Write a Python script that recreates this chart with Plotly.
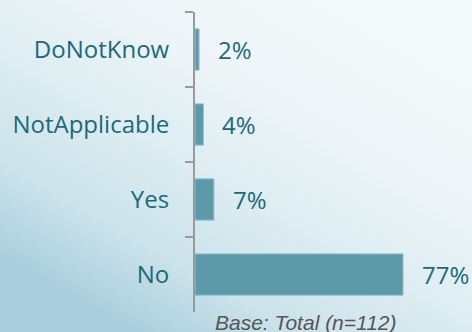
import base64
import plotly.graph_objects as go

categories = ["DoNotKnow", "NotApplicable", "Yes", "No"]
values = [1.5, 3.1, 7.0, 77.0]
labels = ["2%", "4%", "7%", "77%"]
base_note = "Base: Total (n=112)"

W, H = 472, 332
TEAL_TXT = "#1b6a7a"
BAR = "#5c9aaa"

svg = f'''<svg xmlns="http://www.w3.org/2000/svg" width="{W}" height="{H}" viewBox="0 0 {W} {H}" preserveAspectRatio="none">
<defs><linearGradient id="g" gradientUnits="userSpaceOnUse" x1="330" y1="0" x2="140" y2="{H}">
<stop offset="0" stop-color="#f3fafb"/>
<stop offset="0.28" stop-color="#eef5f8"/>
<stop offset="0.55" stop-color="#ddedf2"/>
<stop offset="0.8" stop-color="#cbe2ea"/>
<stop offset="1" stop-color="#aad0dd"/>
</linearGradient></defs>
<rect x="0" y="0" width="{W}" height="{H}" fill="url(#g)"/>
</svg>'''
src = "data:image/svg+xml;base64," + base64.b64encode(svg.encode()).decode()

fig = go.Figure()
fig.add_trace(go.Bar(
    y=categories, x=values, orientation="h",
    marker=dict(color=BAR, line=dict(color="#8fc0cc", width=1)),
    hoverinfo="skip",
))

for c, v, t in zip(categories, values, labels):
    fig.add_annotation(x=v, y=c, xref="x", yref="y", text=t, showarrow=False,
                       xanchor="left", xshift=17,
                       font=dict(family="Open Sans", size=24, color=TEAL_TXT))

fig.add_annotation(x=306 / W, y=1 - 309 / H, xref="paper", yref="paper",
                   text=f"<i>{base_note}</i>", showarrow=False,
                   xanchor="center", yanchor="top",
                   font=dict(family="Liberation Sans", size=21, color="#555555"))

x_px_per_unit = 208 / 77
fig.update_layout(
    width=W, height=H,
    margin=dict(l=0, r=0, t=0, b=0),
    paper_bgcolor="rgba(0,0,0,0)",
    plot_bgcolor="rgba(0,0,0,0)",
    showlegend=False,
    bargap=0.45,
    images=[dict(source=src, xref="paper", yref="paper", x=0, y=1,
                 sizex=1, sizey=1, sizing="stretch", layer="below",
                 xanchor="left", yanchor="top")],
    xaxis=dict(domain=[195 / W, 1], range=[0, (W - 195) / x_px_per_unit],
               visible=False, fixedrange=True),
    yaxis=dict(domain=[(H - 312) / H, (H - 12) / H],
               categoryorder="array", categoryarray=categories,
               autorange="reversed",
               showline=True, linecolor="#9a9a9a", linewidth=2,
               ticks="outside", tickson="boundaries", ticklen=8,
               tickcolor="#9a9a9a", tickwidth=2,
               ticklabelstandoff=19,
               showgrid=False, zeroline=False,
               tickfont=dict(family="Open Sans", size=24, color=TEAL_TXT)),
)

fig.write_html("out.html")
